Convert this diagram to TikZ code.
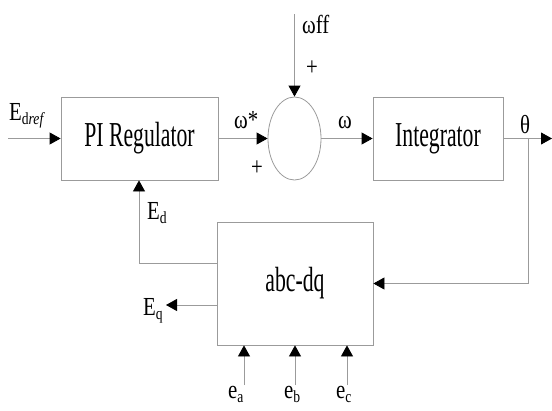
\documentclass[tikz,border=0pt]{standalone}
\usepackage{fontspec}
\setmainfont{Liberation Serif}[FakeStretch=0.62]
\newfontfamily\labfont{Liberation Serif}[FakeStretch=0.8]
\usetikzlibrary{arrows.meta,shapes.geometric}
\definecolor{linegray}{RGB}{155,155,155}
\newcommand{\subtxt}[1]{\raisebox{-0.35ex}{\fontsize{17}{17}\selectfont #1}}
\begin{document}
\begin{tikzpicture}[x=1pt,y=-1pt,
  blk/.style={draw=linegray,line width=0.8pt,rectangle,inner sep=0pt,
    font=\fontsize{35}{38}\selectfont},
  sumnode/.style={draw=linegray,line width=0.8pt,ellipse,inner sep=0pt,
    minimum width=53pt,minimum height=83pt},
  conn/.style={draw=linegray,line width=0.8pt},
  arr/.style={conn,-{Triangle[length=11pt,width=12pt,color=black]}},
  lab/.style={inner sep=0pt,font=\labfont\fontsize{26}{28}\selectfont},
]
\useasboundingbox (0,0) rectangle (552,410);
% blocks
\node[blk,minimum width=157pt,minimum height=83pt] (pi) at (139.5,138.5) {PI Regulator};
\node[sumnode] (sum) at (294.5,138.5) {};
\node[blk,minimum width=130pt,minimum height=83pt] (int) at (438,138.5) {Integrator};
\node[blk,minimum width=156pt,minimum height=123pt] (abc) at (295,283.5) {abc-dq};
% free ends
\coordinate (in) at (8,138.5);
\coordinate (ff) at (294.5,14);
\coordinate (out) at (552,138.5);
\coordinate (br) at (528,138.5);
\coordinate (edc) at (139,263);
\coordinate (eqend) at (166,305);
\coordinate (ea) at (244,385);
\coordinate (eb) at (295,385);
\coordinate (ec) at (347,385);
% connectors
\draw[arr] (in) -- (pi.west);
\draw[arr] (pi.east) -- (sum.west);
\draw[arr] (ff) -- (sum.north);
\draw[arr] (sum.east) -- (int.west);
\draw[arr] (int.east) -- (out);
\draw[arr] (br) |- (abc.east);
\draw[arr] (abc.west |- edc) -- (edc) -- (edc |- pi.south);
\draw[arr] (abc.west |- eqend) -- (eqend);
\draw[arr] (ea) -- (ea |- abc.south);
\draw[arr] (eb) -- (eb |- abc.south);
\draw[arr] (ec) -- (ec |- abc.south);
% labels
\node[lab,anchor=base west] (ledref) at (9,120) {E\subtxt{d\textit{ref}}};
\node[lab,anchor=base west] (lwstar) at (234,128) {ω*};
\node[lab] (lplus1) at (257,168) {+};
\node[lab,anchor=base west] (lwff) at (302,33) {ωff};
\node[lab] (lplus2) at (312,68) {+};
\node[lab,anchor=base] (lw) at (345,128) {ω};
\node[lab,anchor=base] (lth) at (525,133) {θ};
\node[lab,anchor=base west] (led) at (147,219) {E\subtxt{d}};
\node[lab,anchor=base west] (leq) at (143,315) {E\subtxt{q}};
\node[lab,anchor=base west] (lea) at (228,398) {e\subtxt{a}};
\node[lab,anchor=base west] (leb) at (284,398) {e\subtxt{b}};
\node[lab,anchor=base west] (lec) at (336,398) {e\subtxt{c}};
\end{tikzpicture}
\end{document}
